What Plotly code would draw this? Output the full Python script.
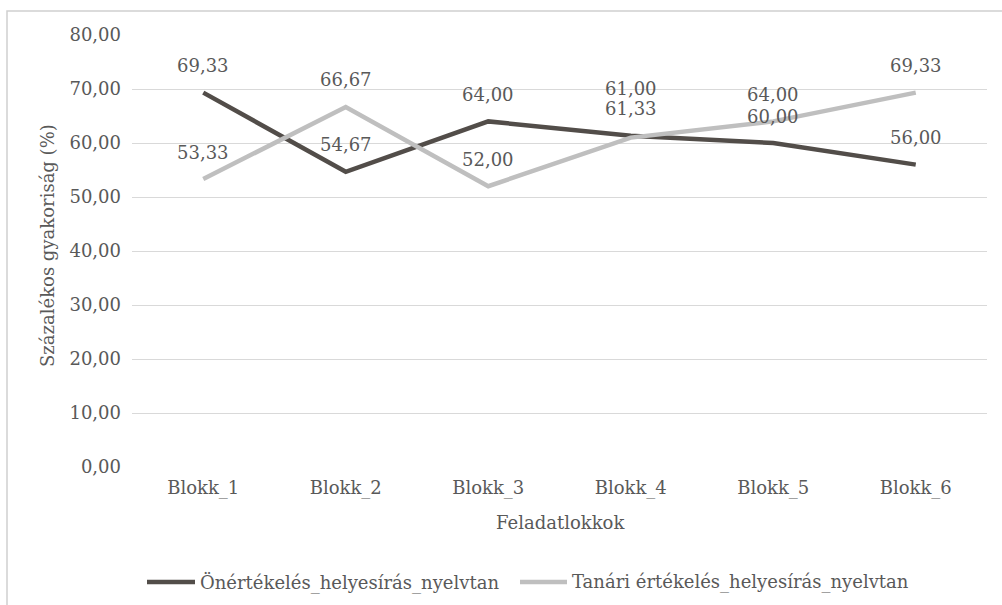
import plotly.graph_objects as go

categories = ["Blokk_1", "Blokk_2", "Blokk_3", "Blokk_4", "Blokk_5", "Blokk_6"]
series_names = ["Önértékelés_helyesírás_nyelvtan", "Tanári értékelés_helyesírás_nyelvtan"]
onertekeles = [69.33, 54.67, 64.00, 61.33, 60.00, 56.00]
tanari = [53.33, 66.67, 52.00, 61.00, 64.00, 69.33]
y_ticks = [0, 10, 20, 30, 40, 50, 60, 70, 80]
x_title = "Feladatlokkok"
y_title = "Százalékos gyakoriság (%)"

dark = "#524D49"
light = "#BFBFBF"
txt = "#595959"
grid = "#D9D9D9"
FONT = "DejaVu Serif"
FS = 18

W, H = 1002, 605
L, R, T, B = 132, 15, 35, 138
pw, ph = W - L - R, H - T - B


def px_x(px):
    return (px - L) / pw


def px_y(py):
    return (H - B - py) / ph


def fmt(v):
    return f"{v:.2f}".replace(".", ",")


fig = go.Figure()
fig.add_trace(go.Scatter(x=categories, y=onertekeles, mode="lines", name=series_names[0],
                         line=dict(color=dark, width=4.5), showlegend=False, hoverinfo="skip"))
fig.add_trace(go.Scatter(x=categories, y=tanari, mode="lines", name=series_names[1],
                         line=dict(color=light, width=4.5), showlegend=False, hoverinfo="skip"))

annotations = []
for i, (c, v) in enumerate(zip(categories, onertekeles)):
    annotations.append(dict(x=c, y=v, xref="x", yref="y", text=fmt(v), showarrow=False,
                            yshift=27, yanchor="middle",
                            font=dict(family=FONT, size=FS, color=txt)))
for i, (c, v) in enumerate(zip(categories, tanari)):
    shift = 27
    if abs(v - onertekeles[i]) < 2:
        shift = 49
    annotations.append(dict(x=c, y=v, xref="x", yref="y", text=fmt(v), showarrow=False,
                            yshift=shift, yanchor="middle",
                            font=dict(family=FONT, size=FS, color=txt)))

annotations.append(dict(x=px_x(560), y=px_y(522), xref="paper", yref="paper", text=x_title,
                        xanchor="center", yanchor="middle",
                        showarrow=False, font=dict(family=FONT, size=FS, color=txt)))
annotations.append(dict(x=px_x(47), y=px_y(246), xref="paper", yref="paper", text=y_title,
                        xanchor="center", yanchor="middle",
                        textangle=-90, showarrow=False, font=dict(family=FONT, size=FS, color=txt)))

shapes = []
shapes.append(dict(type="rect", xref="paper", yref="paper",
                   x0=px_x(7), x1=px_x(1012), y0=px_y(640), y1=px_y(11),
                   line=dict(color="#D0D0D0", width=1.5), fillcolor="rgba(0,0,0,0)", layer="below"))

leg_y = px_y(582)
legend_items = [(series_names[0], dark, 147, 195), (series_names[1], light, 520, 567)]
for name, col, x0, x1 in legend_items:
    shapes.append(dict(type="line", xref="paper", yref="paper", x0=px_x(x0), x1=px_x(x1),
                       y0=leg_y, y1=leg_y, line=dict(color=col, width=4.5)))
    annotations.append(dict(x=px_x(x1 + 3), y=leg_y, xref="paper", yref="paper", text=name,
                            xanchor="left", yanchor="middle", showarrow=False,
                            font=dict(family=FONT, size=FS, color=txt)))

fig.update_layout(
    width=W, height=H,
    margin=dict(l=L, r=R, t=T, b=B),
    paper_bgcolor="white", plot_bgcolor="white",
    separators=", ",
    showlegend=False,
    font=dict(family=FONT, size=FS, color=txt),
    annotations=annotations,
    shapes=shapes,
)
fig.update_xaxes(type="category", range=[-0.5, 5.5], showgrid=False, showline=False,
                 zeroline=False, ticks="", tickfont=dict(family=FONT, size=FS, color=txt),
                 ticklabelstandoff=8)
fig.update_yaxes(range=[0, 80], tickvals=y_ticks, tickformat=".2f", showgrid=True,
                 gridcolor=grid, gridwidth=1.3, zeroline=False, showline=False, ticks="",
                 tickfont=dict(family=FONT, size=FS, color=txt), ticklabelstandoff=10)

fig.write_html("out.html", config={"displayModeBar": False},
               post_script="document.body.style.margin='0';document.body.style.overflow='hidden';")
